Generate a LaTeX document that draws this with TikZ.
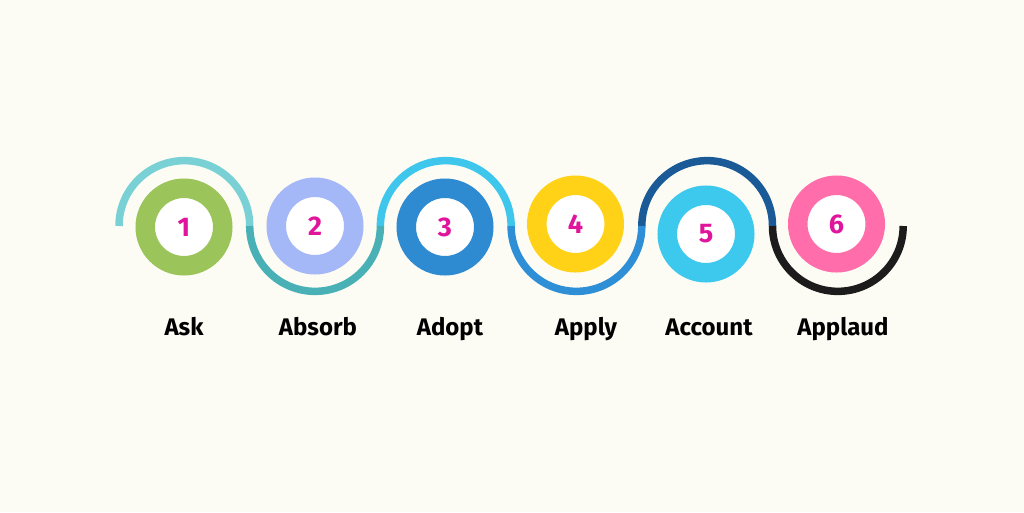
\documentclass[tikz,border=0pt]{standalone}
\usepackage{fontspec}
\setmainfont{Fira Sans}
\definecolor{bg}{HTML}{FDFCF4}
\definecolor{num}{HTML}{E0159B}
\definecolor{wA}{HTML}{7AD1D5}
\definecolor{wB}{HTML}{49B1B5}
\definecolor{wC}{HTML}{3EC6EC}
\definecolor{wD}{HTML}{2F8FD6}
\definecolor{wE}{HTML}{1A5A97}
\definecolor{wF}{HTML}{1C1C1C}
\definecolor{rA}{HTML}{9BC45B}
\definecolor{rB}{HTML}{A4B7F7}
\definecolor{rC}{HTML}{2E8BD1}
\definecolor{rD}{HTML}{FFD117}
\definecolor{rE}{HTML}{3DC9EE}
\definecolor{rF}{HTML}{FF6EAA}
\begin{document}
\begin{tikzpicture}[x=1pt,y=-1pt,line cap=butt]
\tikzset{ring/.style={circle,minimum size=77.5pt,inner sep=0pt,line width=19.5pt,fill=white,text=num,font=\bfseries\fontsize{27}{27}\selectfont},
	lbl/.style={inner sep=0pt,font=\bfseries\fontsize{24}{24}\selectfont},
	wave/.style={line width=7.5pt}}
\fill[bg] (0,0) rectangle (1024,512);
% the wave
\foreach \k in {0,...,6}
	\coordinate (j\k) at ({119+130.7*\k},226);
\foreach \k/\c in {0/wA,2/wC,4/wE}
	\draw[wave,\c] (j\k) arc[start angle=180,end angle=360,radius=65.35];
\foreach \k/\c in {1/wB,3/wD,5/wF}
	\draw[wave,\c] (j\k) arc[start angle=180,end angle=0,radius=65.35];
% rings and labels
\foreach \i/\x/\y/\c/\lx/\t in {1/184/227/rA/184/Ask,2/315/226/rB/318/Absorb,3/445/227/rC/450/Adopt,4/575.5/224/rD/586/Apply,5/706/234/rE/709/Account,6/836.5/224/rF/843/Applaud}{
	\node[ring,draw=\c] (c\i) at (\x,\y) {\i};
	\node[lbl,anchor=base] (l\i) at (\lx,335) {\t};
}
\end{tikzpicture}
\end{document}
